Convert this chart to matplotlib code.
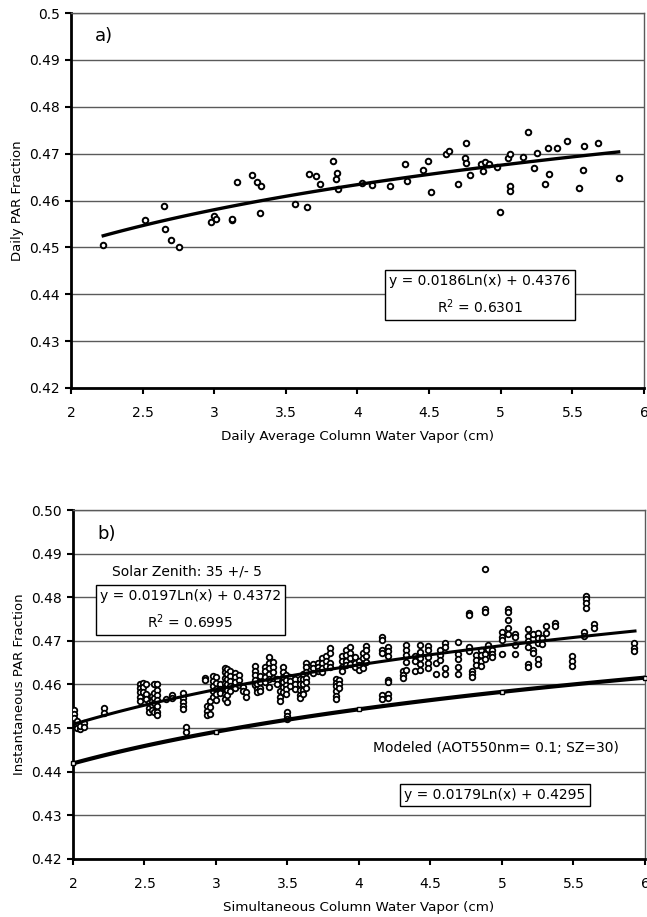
import numpy as np
import matplotlib
matplotlib.use("Agg")
import matplotlib.pyplot as plt

plt.rcParams["font.family"] = ["DejaVu Sans"]

# ---------- Panel a: daily averages ----------
a_x = [2.225, 2.517, 2.652, 2.654, 2.698, 2.752, 2.977, 2.998, 3.014, 3.123,
       3.125, 3.156, 3.265, 3.297, 3.325, 3.316, 3.561, 3.647, 3.659, 3.708,
       3.735, 3.832, 3.853, 3.855, 3.865, 4.030, 4.100, 4.229, 4.329, 4.343,
       4.460, 4.495, 4.513, 4.618, 4.637, 4.700, 4.747, 4.754, 4.758, 4.786,
       4.861, 4.877, 4.889, 4.915, 4.973, 4.994, 5.050, 5.067, 5.062, 5.062,
       5.155, 5.193, 5.235, 5.256, 5.312, 5.328, 5.335, 5.393, 5.463, 5.547,
       5.571, 5.582, 5.676, 5.823]
a_y = [0.4506, 0.4559, 0.4589, 0.4539, 0.4515, 0.4501, 0.4555, 0.4566, 0.4561, 0.4559,
       0.4561, 0.4639, 0.4654, 0.4639, 0.4630, 0.4574, 0.4592, 0.4587, 0.4656, 0.4652,
       0.4636, 0.4684, 0.4646, 0.4658, 0.4624, 0.4638, 0.4633, 0.4632, 0.4677, 0.4642,
       0.4666, 0.4685, 0.4619, 0.4699, 0.4705, 0.4636, 0.4690, 0.4681, 0.4722, 0.4654,
       0.4677, 0.4663, 0.4682, 0.4678, 0.4671, 0.4575, 0.4690, 0.4700, 0.4630, 0.4620,
       0.4693, 0.4746, 0.4669, 0.4702, 0.4636, 0.4713, 0.4657, 0.4713, 0.4728, 0.4626,
       0.4666, 0.4717, 0.4722, 0.4648]
a_fit = (0.0186, 0.4376)  # y = a ln(x) + b
a_r2 = 0.6301

# ---------- Panel b: instantaneous values (columns of points at one x) ----------
b_columns = [
    (2.01, [0.4541, 0.4533, 0.4524]),
    (2.03, [0.4516, 0.4508, 0.4500]),
    (2.05, [0.4497, 0.4505]),
    (2.08, [0.4511, 0.4503]),
    (2.22, [0.4545, 0.4534]),
    (2.47, [0.4600, 0.4592, 0.4582, 0.4572, 0.4562]),
    (2.49, [0.4603, 0.4594, 0.4583]),
    (2.51, [0.4601, 0.4578, 0.4566]),
    (2.53, [0.4558, 0.4547, 0.4538]),
    (2.55, [0.4574, 0.4563, 0.4553, 0.4541]),
    (2.57, [0.4600, 0.4580, 0.4569, 0.4557, 0.4538]),
    (2.59, [0.4600, 0.4588, 0.4576, 0.4564, 0.4550, 0.4537, 0.4531]),
    (2.65, [0.4567]),
    (2.69, [0.4575, 0.4568]),
    (2.77, [0.4580, 0.4570, 0.4561, 0.4551, 0.4544]),
    (2.79, [0.4502, 0.4491]),
    (2.92, [0.4616, 0.4610]),
    (2.94, [0.4550, 0.4540, 0.4530]),
    (2.96, [0.4562, 0.4549, 0.4532]),
    (2.98, [0.4620, 0.4608, 0.4596, 0.4584, 0.4572]),
    (3.00, [0.4617, 0.4603, 0.4590, 0.4578, 0.4565]),
    (3.03, [0.4600, 0.4590, 0.4580]),
    (3.06, [0.4638, 0.4628, 0.4615, 0.4603, 0.4591, 0.4578, 0.4566]),
    (3.08, [0.4636, 0.4625, 0.4612, 0.4600, 0.4588, 0.4575, 0.4561]),
    (3.10, [0.4630, 0.4620, 0.4608, 0.4596, 0.4585]),
    (3.13, [0.4627, 0.4617, 0.4605, 0.4593]),
    (3.16, [0.4622, 0.4611, 0.4598]),
    (3.19, [0.4595, 0.4585]),
    (3.21, [0.4583, 0.4572]),
    (3.27, [0.4642, 0.4632, 0.4622, 0.4610, 0.4598]),
    (3.29, [0.4600, 0.4590, 0.4582]),
    (3.31, [0.4620, 0.4606, 0.4593, 0.4585]),
    (3.34, [0.4640, 0.4630, 0.4618, 0.4605]),
    (3.37, [0.4662, 0.4650, 0.4638, 0.4625, 0.4612, 0.4595]),
    (3.40, [0.4652, 0.4640, 0.4628, 0.4615]),
    (3.43, [0.4612, 0.4600]),
    (3.45, [0.4585, 0.4572, 0.4562]),
    (3.47, [0.4640, 0.4628, 0.4617, 0.4605, 0.4595, 0.4583]),
    (3.49, [0.4622, 0.4610, 0.4598, 0.4590, 0.4578]),
    (3.50, [0.4537, 0.4528, 0.4520]),
    (3.52, [0.4618, 0.4608, 0.4597]),
    (3.55, [0.4612, 0.4600, 0.4590]),
    (3.59, [0.4612, 0.4600, 0.4588, 0.4576, 0.4570]),
    (3.61, [0.4625, 0.4612, 0.4600, 0.4587, 0.4578]),
    (3.63, [0.4650, 0.4640, 0.4628, 0.4616, 0.4605, 0.4592]),
    (3.68, [0.4648, 0.4638, 0.4627]),
    (3.71, [0.4650, 0.4640, 0.4630]),
    (3.74, [0.4660, 0.4650, 0.4638, 0.4628]),
    (3.77, [0.4665, 0.4655, 0.4643]),
    (3.80, [0.4683, 0.4672, 0.4650, 0.4640]),
    (3.84, [0.4612, 0.4604, 0.4596, 0.4585, 0.4574, 0.4566]),
    (3.86, [0.4610, 0.4600, 0.4592]),
    (3.88, [0.4665, 0.4655, 0.4640, 0.4630]),
    (3.91, [0.4680, 0.4668, 0.4655, 0.4645]),
    (3.94, [0.4685, 0.4672, 0.4660, 0.4648]),
    (3.97, [0.4662, 0.4650, 0.4640]),
    (4.00, [0.4655, 0.4645, 0.4633]),
    (4.03, [0.4672, 0.4660, 0.4648, 0.4638]),
    (4.05, [0.4688, 0.4678, 0.4665, 0.4652]),
    (4.16, [0.4710, 0.4702, 0.4680, 0.4672, 0.4575, 0.4567]),
    (4.20, [0.4685, 0.4676, 0.4665, 0.4610, 0.4606, 0.4578, 0.4570]),
    (4.31, [0.4631, 0.4622, 0.4615]),
    (4.33, [0.4690, 0.4680, 0.4667, 0.4652, 0.4634]),
    (4.39, [0.4665, 0.4655, 0.4630]),
    (4.43, [0.4690, 0.4675, 0.4660, 0.4648, 0.4633]),
    (4.48, [0.4688, 0.4678, 0.4663, 0.4650, 0.4638]),
    (4.54, [0.4650, 0.4625]),
    (4.57, [0.4680, 0.4668, 0.4656]),
    (4.60, [0.4695, 0.4687, 0.4638, 0.4624]),
    (4.69, [0.4697, 0.4670, 0.4658, 0.4640, 0.4624]),
    (4.77, [0.4763, 0.4759, 0.4685, 0.4677]),
    (4.79, [0.4632, 0.4625, 0.4617]),
    (4.82, [0.4668, 0.4657, 0.4645]),
    (4.85, [0.4678, 0.4667, 0.4655, 0.4643]),
    (4.88, [0.4864, 0.4774, 0.4767, 0.4670, 0.4658]),
    (4.90, [0.4690, 0.4682]),
    (4.93, [0.4678, 0.4670, 0.4662]),
    (5.00, [0.4720, 0.4710, 0.4702, 0.4670]),
    (5.04, [0.4774, 0.4767, 0.4748, 0.4729, 0.4716]),
    (5.09, [0.4716, 0.4708, 0.4690, 0.4670]),
    (5.18, [0.4727, 0.4712, 0.4700, 0.4685, 0.4648, 0.4640]),
    (5.22, [0.4715, 0.4680, 0.4672]),
    (5.25, [0.4718, 0.4707, 0.4696, 0.4658, 0.4646]),
    (5.28, [0.4707, 0.4692]),
    (5.31, [0.4734, 0.4718]),
    (5.37, [0.4740, 0.4735]),
    (5.49, [0.4666, 0.4655, 0.4643]),
    (5.57, [0.4720, 0.4712]),
    (5.59, [0.4802, 0.4795, 0.4786, 0.4776]),
    (5.64, [0.4738, 0.4730]),
    (5.92, [0.4695, 0.4684, 0.4676]),
]
b_fit = (0.0197, 0.4372)
b_r2 = 0.6995
b_fit_xmax = 5.93

# modeled PAR fraction (AOT550nm = 0.1, SZ = 30)
mod_x = [2, 3, 4, 5, 6]
mod_y = [0.4419, 0.4491, 0.4543, 0.4583, 0.4616]
mod_fit = (0.0179, 0.4295)

b_x = [x for x, ys in b_columns for _ in ys]
b_y = [y for _, ys in b_columns for y in ys]

y_ticks = np.arange(0.42, 0.5001, 0.01)
x_ticks = [2, 2.5, 3, 3.5, 4, 4.5, 5, 5.5, 6]
x_labels = ["2", "2.5", "3", "3.5", "4", "4.5", "5", "5.5", "6"]

GRID = "#5a5a5a"
box = dict(boxstyle="square,pad=0.3", facecolor="white", edgecolor="black", linewidth=1.0)


def style_axes(ax, ylabels):
    ax.set_xlim(2, 6)
    ax.set_ylim(0.42, 0.50)
    ax.set_xticks(x_ticks)
    ax.set_xticklabels(x_labels, fontsize=10)
    ax.set_yticks(y_ticks)
    ax.set_yticklabels(ylabels, fontsize=10)
    ax.yaxis.grid(True, color=GRID, linewidth=1.0)
    ax.set_axisbelow(True)
    ax.tick_params(direction="out", length=4, width=1.5)
    ax.tick_params(axis="x", pad=9)
    ax.tick_params(axis="y", pad=4)
    for side in ("left", "bottom"):
        ax.spines[side].set_linewidth(2.0)
        ax.spines[side].set_color("black")
    for side in ("top", "right"):
        ax.spines[side].set_linewidth(1.0)
        ax.spines[side].set_color(GRID)


fig = plt.figure(figsize=(6.47, 9.17), dpi=100)

# ---------- a) ----------
ax1 = fig.add_axes([0.1097, 0.5769, 0.8857, 0.4089])
style_axes(ax1, ["0.42", "0.43", "0.44", "0.45", "0.46", "0.47", "0.48", "0.49", "0.5"])
ax1.plot(a_x, a_y, "o", ms=4, mfc="white", mec="black", mew=1.4, zorder=3)
xs = np.linspace(min(a_x), max(a_x), 100)
ax1.plot(xs, a_fit[0] * np.log(xs) + a_fit[1], color="black", lw=2.4, zorder=4)
ax1.text(2.17, 0.4952, "a)", fontsize=13, va="center")
ax1.text(4.855, 0.4399, f"y = {a_fit[0]}Ln(x) + {a_fit[1]}\nR$^2$ = {a_r2}",
         fontsize=10, ha="center", va="center", linespacing=1.6, bbox=box, zorder=5)
ax1.set_xlabel("Daily Average Column Water Vapor (cm)", fontsize=9.7, labelpad=7)
ax1.set_ylabel("Daily PAR Fraction", fontsize=9.5, labelpad=4)

# ---------- b) ----------
ax2 = fig.add_axes([0.1128, 0.0633, 0.8841, 0.3805])
style_axes(ax2, [f"{v:.2f}" for v in y_ticks])
ax2.plot(b_x, b_y, "o", ms=4, mfc="white", mec="black", mew=1.3, zorder=3)
xs = np.linspace(2, b_fit_xmax, 100)
ax2.plot(xs, b_fit[0] * np.log(xs) + b_fit[1], color="black", lw=2.2, zorder=4)
xs = np.linspace(2, 6, 100)
ax2.plot(xs, mod_fit[0] * np.log(xs) + mod_fit[1], color="black", lw=3.0, zorder=4)
ax2.plot(mod_x, mod_y, "s", ms=3.5, mfc="white", mec="black", mew=1.0, zorder=5,
         clip_on=False)
ax2.text(2.17, 0.4945, "b)", fontsize=13, va="center")
ax2.text(2.8, 0.4858, "Solar Zenith: 35 +/- 5", fontsize=10, ha="center", va="center")
ax2.text(2.82, 0.4771, f"y = {b_fit[0]}Ln(x) + {b_fit[1]}\nR$^2$ = {b_r2}",
         fontsize=10, ha="center", va="center", linespacing=1.6, bbox=box, zorder=5)
ax2.text(4.96, 0.4454, "Modeled (AOT550nm= 0.1; SZ=30)", fontsize=10,
         ha="center", va="center")
ax2.text(4.95, 0.4346, f"y = {mod_fit[0]}Ln(x) + {mod_fit[1]}", fontsize=10,
         ha="center", va="center", bbox=box, zorder=5)
ax2.set_xlabel("Simultaneous Column Water Vapor (cm)", fontsize=9.7, labelpad=7)
ax2.set_ylabel("Instantaneous PAR Fraction", fontsize=9.5, labelpad=4)

fig.savefig("out.png", dpi=100)
plt.close(fig)
